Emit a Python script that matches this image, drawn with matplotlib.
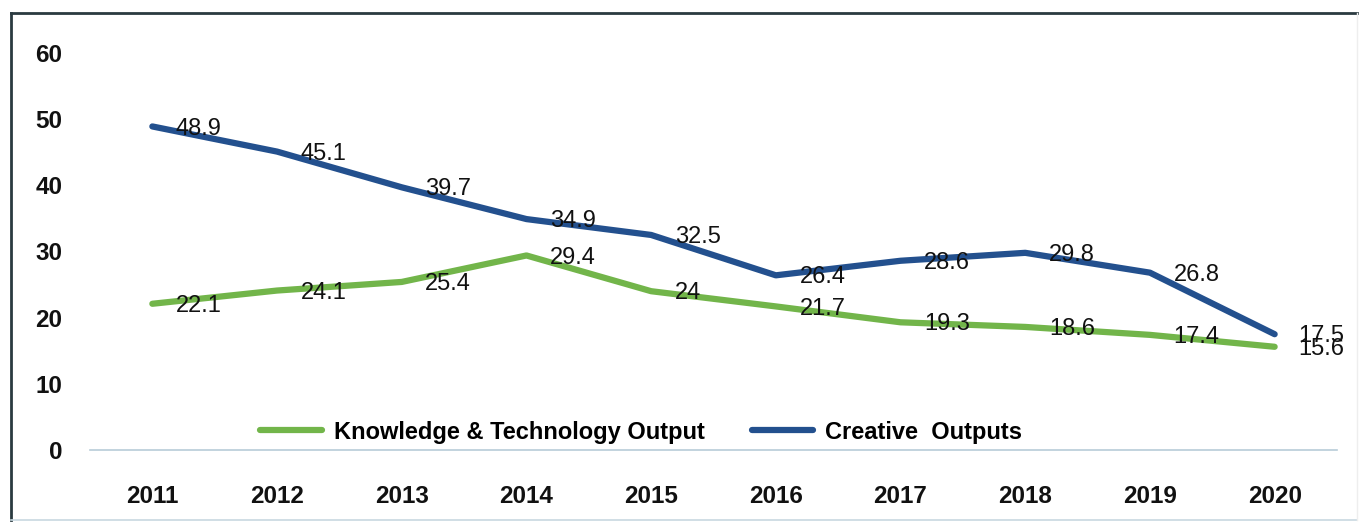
import numpy as np
import matplotlib
matplotlib.use("Agg")
import matplotlib.pyplot as plt
from matplotlib.lines import Line2D

plt.rcParams['font.family'] = ['Liberation Sans', 'DejaVu Sans']

years = ['2011', '2012', '2013', '2014', '2015', '2016', '2017', '2018', '2019', '2020']
knowledge = [22.1, 24.1, 25.4, 29.4, 24, 21.7, 19.3, 18.6, 17.4, 15.6]
creative = [48.9, 45.1, 39.7, 34.9, 32.5, 26.4, 28.6, 29.8, 26.8, 17.5]
y_ticks = [0, 10, 20, 30, 40, 50, 60]

green = '#72b54a'
blue = '#23508e'

W, H = 1364, 526
fig = plt.figure(figsize=(W/100, H/100), dpi=100)
ax = fig.add_axes([90/W, 1-450/H, (1337-90)/W, (450-53)/H])

x = np.arange(len(years))
ax.plot(x, knowledge, color=green, lw=4.5, solid_capstyle='round', solid_joinstyle='round',
        label='Knowledge & Technology Output')
ax.plot(x, creative, color=blue, lw=4.5, solid_capstyle='round', solid_joinstyle='round',
        label='Creative  Outputs')

for xi, v in zip(x, knowledge):
    ax.annotate('{:g}'.format(v), (xi, v), xytext=(17, -1.5), textcoords='offset points',
                ha='left', va='center', fontsize=17, color='#111111')
for xi, v in zip(x, creative):
    ax.annotate('{:g}'.format(v), (xi, v), xytext=(17, -1.5), textcoords='offset points',
                ha='left', va='center', fontsize=17, color='#111111')

ax.set_xlim(-0.5, len(years)-0.5)
ax.set_ylim(0, 60)
ax.set_xticks(x)
ax.set_xticklabels(years, fontsize=17.5, fontweight='bold')
ax.set_yticks(y_ticks)
ax.set_yticklabels([str(t) for t in y_ticks], fontsize=17.5, fontweight='bold')
ax.tick_params(axis='both', length=0, colors='#111111')
ax.tick_params(axis='x', pad=25)
ax.tick_params(axis='y', pad=20)
for side in ('top', 'right', 'left'):
    ax.spines[side].set_visible(False)
ax.spines['bottom'].set_color('#b8ccd8')
ax.spines['bottom'].set_linewidth(1.2)

leg = ax.legend(loc='center', bbox_to_anchor=(0.442, 0.045), ncol=2, frameon=False,
                prop={'size': 17, 'weight': 'bold'}, handlelength=2.6, handletextpad=0.5,
                columnspacing=2.0)

# outer frame
fig.add_artist(Line2D([11/W, 1357/W], [1-13/H, 1-13/H], color='#2a3a40', lw=2))
fig.add_artist(Line2D([11/W, 11/W], [1-13/H, 1-520/H], color='#2a3a40', lw=2))
fig.add_artist(Line2D([11/W, 1357/W], [1-520/H, 1-520/H], color='#c8d8e0', lw=1.2))
fig.add_artist(Line2D([1357/W, 1357/W], [1-13/H, 1-520/H], color='#eeeeee', lw=1))

fig.savefig('out.png', dpi=100)
